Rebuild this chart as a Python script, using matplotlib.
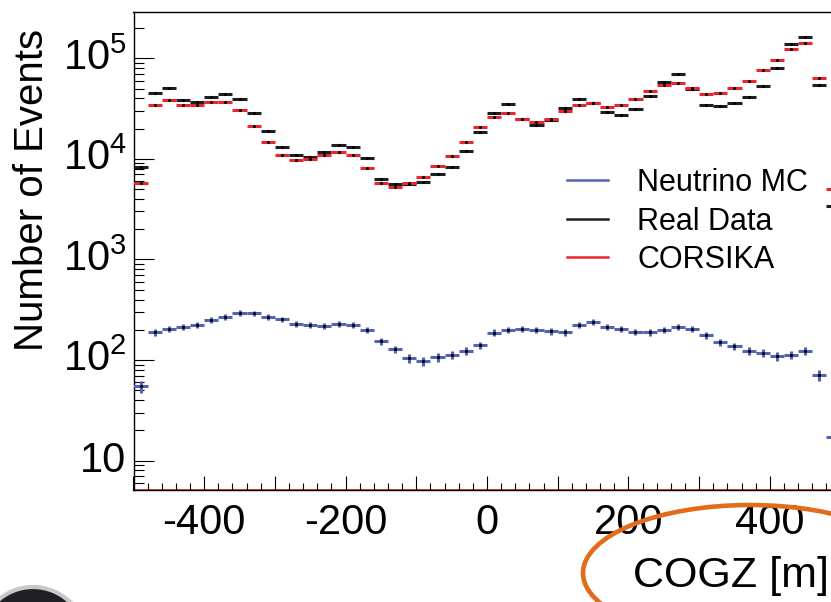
import numpy as np
import matplotlib
matplotlib.use("Agg")
import matplotlib.pyplot as plt
from matplotlib.ticker import MultipleLocator, FixedLocator, FuncFormatter, LogLocator, NullFormatter
from matplotlib.lines import Line2D
from matplotlib.patches import Ellipse

plt.rcParams['font.family'] = ['Liberation Sans', 'DejaVu Sans']
plt.rcParams['mathtext.fontset'] = 'custom'
plt.rcParams['mathtext.rm'] = 'Liberation Sans'
plt.rcParams['axes.unicode_minus'] = False

# 50 bins of COGZ, 20 m wide, from -500 m to 500 m
bin_width = 20
cogz_centers = np.arange(-490, 500, bin_width)

# (events per bin)
real_data = [8400, 44900, 50300, 38800, 37000, 41500, 44200, 39100, 28600, 18900,
             13100, 10900, 10500, 11700, 13700, 13200, 10200, 6300, 5600, 5600,
             5900, 7000, 8400, 11900, 18500, 28800, 34900, 25100, 21900, 24400,
             32100, 39400, 36200, 29500, 27300, 31500, 41900, 58100, 69300, 49200,
             34100, 33800, 36000, 41200, 53400, 79500, 137800, 161700, 53900, 3400]

corsika = [5720, 34600, 38500, 34600, 34600, 36500, 36800, 30600, 21100, 14600,
           10900, 9700, 10050, 11000, 11600, 10900, 8200, 5800, 5260, 5760,
           6600, 8440, 10760, 14700, 20600, 25900, 28600, 24750, 23100, 24900,
           29700, 34100, 35700, 32600, 34300, 39400, 47000, 54600, 57200, 50300,
           44200, 45200, 50300, 59900, 76500, 96200, 124600, 142900, 63300, 4990]

neutrino_mc = [55, 189, 205, 212, 223, 252, 268, 294, 292, 268,
               254, 230, 222, 220, 228, 222, 200, 154, 128, 104,
               98, 107, 113, 123, 141, 188, 200, 204, 198, 193,
               189, 225, 238, 212, 205, 190, 189, 198, 215, 205,
               176, 150, 137, 124, 117, 109, 113, 123, 71, 17]

y_ticks = [10, 1e2, 1e3, 1e4, 1e5]
y_tick_labels = ['10', r'$\mathregular{10^{2}}$', r'$\mathregular{10^{3}}$',
                 r'$\mathregular{10^{4}}$', r'$\mathregular{10^{5}}$']

col_nu = '#5364b3'
col_data = '#1e1e1e'
col_cors = '#e8262b'

fig = plt.figure(figsize=(8.31, 6.02), dpi=100)
# axes runs a little past the right edge of the picture (cropped plot)
ax = fig.add_axes([133.5 / 831, 1 - 489.5 / 602, 707 / 831, 477.5 / 602])

series = [(real_data, col_data), (corsika, col_cors), (neutrino_mc, col_nu)]
for vals, col in series:
    vals = np.asarray(vals, dtype=float)
    ax.errorbar(cogz_centers, vals, xerr=bin_width / 2, yerr=np.sqrt(vals),
                fmt='o', ms=1.2, color='black', ecolor=col, elinewidth=2.2,
                capsize=0, zorder=3)

ax.set_yscale('log')
ax.set_xlim(-500, 500)
ax.set_ylim(5.17, 2.886e5)

# x ticks: every 100 major (labels every 200), minor every 20
ax.xaxis.set_major_locator(MultipleLocator(100))
ax.xaxis.set_minor_locator(MultipleLocator(20))
ax.xaxis.set_major_formatter(FuncFormatter(
    lambda v, p: f'{int(round(v))}' if int(round(v)) % 200 == 0 else ''))

ax.yaxis.set_major_locator(FixedLocator(y_ticks))
ax.set_yticklabels(y_tick_labels)
ax.yaxis.set_minor_locator(LogLocator(base=10, subs=np.arange(2, 10), numticks=20))
ax.yaxis.set_minor_formatter(NullFormatter())

ax.tick_params(axis='x', which='major', direction='in', length=10, width=0.8,
               labelsize=30, pad=10, top=False)
ax.tick_params(axis='x', which='minor', direction='in', length=5, width=0.8, top=False)
ax.tick_params(axis='y', which='major', direction='in', length=14.5, width=0.8,
               labelsize=30, pad=5, right=False)
ax.tick_params(axis='y', which='minor', direction='in', length=7.2, width=0.8, right=False)
for lab in ax.get_yticklabels():
    lab.set_verticalalignment('center')

for s in ax.spines.values():
    s.set_linewidth(1.0)
# red baseline of the CORSIKA histogram under the x axis
ax.axhline(5.17, color=col_cors, lw=1.2, zorder=1, clip_on=False)

ax.set_xlabel('COGZ [m]', fontsize=31, loc='right', labelpad=9)
# keep the closing bracket inside the picture
ax.xaxis.label.set_x((829 - 133.5) / 707)
fig.text(32 / 831, 1 - 190 / 602, 'Number of Events', rotation=90,
         ha='center', va='center', fontsize=29)

handles = [Line2D([], [], color=col_nu, lw=1.8),
           Line2D([], [], color=col_data, lw=1.8),
           Line2D([], [], color=col_cors, lw=1.8)]
fig.legend(handles, ['Neutrino MC', 'Real Data', 'CORSIKA'],
           loc='upper left', bbox_to_anchor=(567 / 831, 1 - 168 / 602),
           frameon=False, fontsize=22, handlelength=1.35, handletextpad=0.95,
           labelspacing=0.28, borderpad=0, borderaxespad=0)

# orange annotation ring around the axis title
fig.patches.append(Ellipse((750 / 831, 1 - 573 / 602), 334 / 831, 136 / 602,
                           transform=fig.transFigure, fill=False,
                           edgecolor='#e36c1b', lw=3.3, zorder=10))
# partial logo in the bottom-left corner
fig.patches.append(Ellipse((33 / 831, 1 - 640 / 602), 106 / 831, 106 / 602,
                           transform=fig.transFigure, facecolor='#1f1f24',
                           edgecolor='#c8c8c8', lw=3, zorder=10))

fig.savefig('out.png', dpi=100)
